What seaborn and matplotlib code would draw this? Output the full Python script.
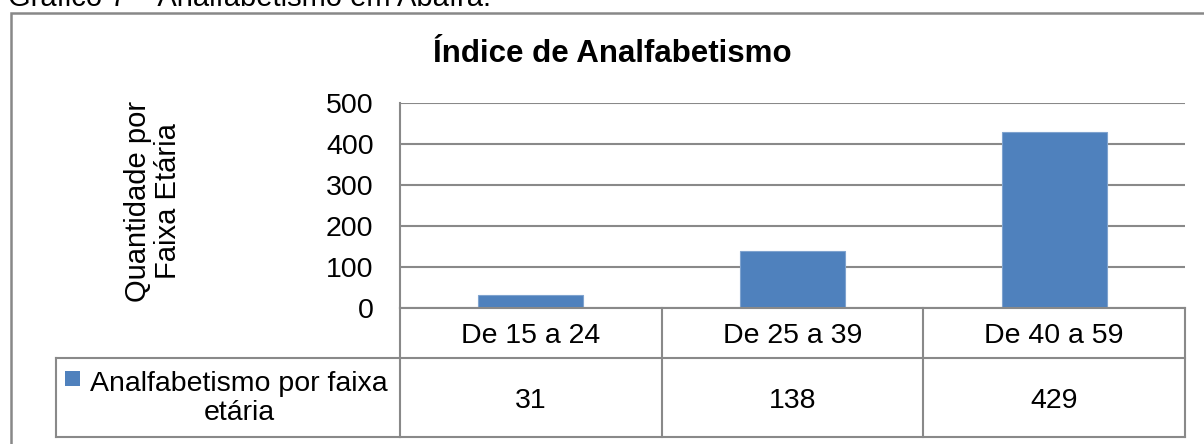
import matplotlib
matplotlib.use("Agg")
import matplotlib.pyplot as plt
import matplotlib.transforms as mtransforms
from matplotlib.patches import Rectangle
import pandas as pd
import seaborn as sns

# data
faixas = ["De 15 a 24", "De 25 a 39", "De 40 a 59"]
analfabetos = [31, 138, 429]
serie = "Analfabetismo por faixa etária"
titulo = "Índice de Analfabetismo"
legenda_fonte = "Gráfico 7 – Analfabetismo em Abaíra."
eixo_y = "Quantidade por\nFaixa Etária"
y_ticks = [0, 100, 200, 300, 400, 500]

AZUL = "#4F81BD"
CINZA = "#898989"
W, H = 1204, 444


def px_x(x):
    """Pixel column -> figure fraction."""
    return x / W


def px_y(y):
    """Pixel row (from top) -> figure fraction."""
    return 1 - y / H


def draw_chart():
    sns.set_style("white")
    plt.rcParams["font.family"] = ["Liberation Sans", "DejaVu Sans"]
    plt.rcParams.update({"text.color": "black", "axes.labelcolor": "black",
                         "xtick.color": "black", "ytick.color": "black"})

    df = pd.DataFrame({"faixa": faixas, "valor": analfabetos})

    fig = plt.figure(figsize=(W / 100, H / 100), dpi=100)
    top, bottom, left, right = 103, 307.5, 400, 1185
    ax = fig.add_axes([px_x(left), px_y(bottom), (right - left) / W, (bottom - top) / H])

    sns.barplot(data=df, x="faixa", y="valor", color=AZUL, saturation=1,
                width=0.4, edgecolor="#7FA3CF", linewidth=0.8, ax=ax)

    ax.set_ylim(0, 500)
    ax.set_yticks(y_ticks)
    ax.yaxis.grid(True, color=CINZA, linewidth=1.5)
    ax.xaxis.grid(False)
    ax.set_axisbelow(True)
    ax.tick_params(axis="y", length=0, pad=19, labelsize=20.5, labelcolor="black")
    ax.tick_params(axis="x", length=0, labelbottom=False)
    ax.set_xlabel("")
    ax.set_ylabel(eixo_y, fontsize=21, linespacing=1.1, color="black")
    ax.yaxis.label.set_verticalalignment("center")
    ax.yaxis.set_label_coords((153 - left) / (right - left), (bottom - 201) / (bottom - top))
    for s in ["top", "right"]:
        ax.spines[s].set_visible(False)
    for s in ["left", "bottom"]:
        ax.spines[s].set_color(CINZA)
        ax.spines[s].set_linewidth(1.5)

    # data table under the plot (Excel style)
    def ay(py):
        return (bottom - py) / (bottom - top)

    def ax_x(px):
        return (px - left) / (right - left)

    row_mid, row_bot = ay(358.3), ay(436.7)
    trans = mtransforms.blended_transform_factory(ax.transData, ax.transAxes)
    n = len(faixas)
    line_kw = dict(color=CINZA, linewidth=1.5, clip_on=False, solid_capstyle="projecting")
    for i in range(n + 1):
        ax.plot([i - 0.5, i - 0.5], [0, row_bot], transform=trans, **line_kw)
    for yy in [row_mid, row_bot]:
        ax.plot([-0.5, n - 0.5], [yy, yy], transform=trans, **line_kw)
    leg_left = ax_x(56)
    ax.plot([leg_left, 0], [row_mid, row_mid], transform=ax.transAxes, **line_kw)
    ax.plot([leg_left, 0], [row_bot, row_bot], transform=ax.transAxes, **line_kw)
    ax.plot([leg_left, leg_left], [row_mid, row_bot], transform=ax.transAxes, **line_kw)

    for i, (faixa, val) in enumerate(zip(faixas, analfabetos)):
        ax.text(i, ay(343), faixa, transform=trans, ha="center", va="baseline",
                fontsize=20.5, color="black", clip_on=False)
        ax.text(i, ay(408), str(val), transform=trans, ha="center", va="baseline",
                fontsize=20.5, color="black", clip_on=False)

    # legend key + series name
    ax.add_patch(Rectangle((ax_x(65), ay(386)), 15 / (right - left), 15 / (bottom - top),
                           transform=ax.transAxes, facecolor=AZUL, edgecolor="none",
                           clip_on=False))
    nome = serie.replace(" etária", "\netária")
    ax.text(ax_x(239), ay(420), nome, transform=ax.transAxes, ha="center", va="baseline",
            multialignment="center", fontsize=20.5, linespacing=1.15, color="black",
            clip_on=False)
    ax.set_xlim(-0.5, n - 0.5)

    # title, caption and outer frame
    fig.text(px_x(612.5), px_y(62), titulo, ha="center", va="baseline",
             fontsize=22.5, fontweight="bold", color="black")
    fig.text(px_x(8), px_y(6), legenda_fonte, ha="left", va="baseline", fontsize=21,
             color="black")
    fig.add_artist(Rectangle((px_x(10.5), -0.5), 1.5, px_y(13.5) + 0.5,
                             transform=fig.transFigure, fill=False,
                             edgecolor="#888888", linewidth=1.8))

    fig.savefig("out.png", dpi=100)


if __name__ == "__main__":
    draw_chart()
